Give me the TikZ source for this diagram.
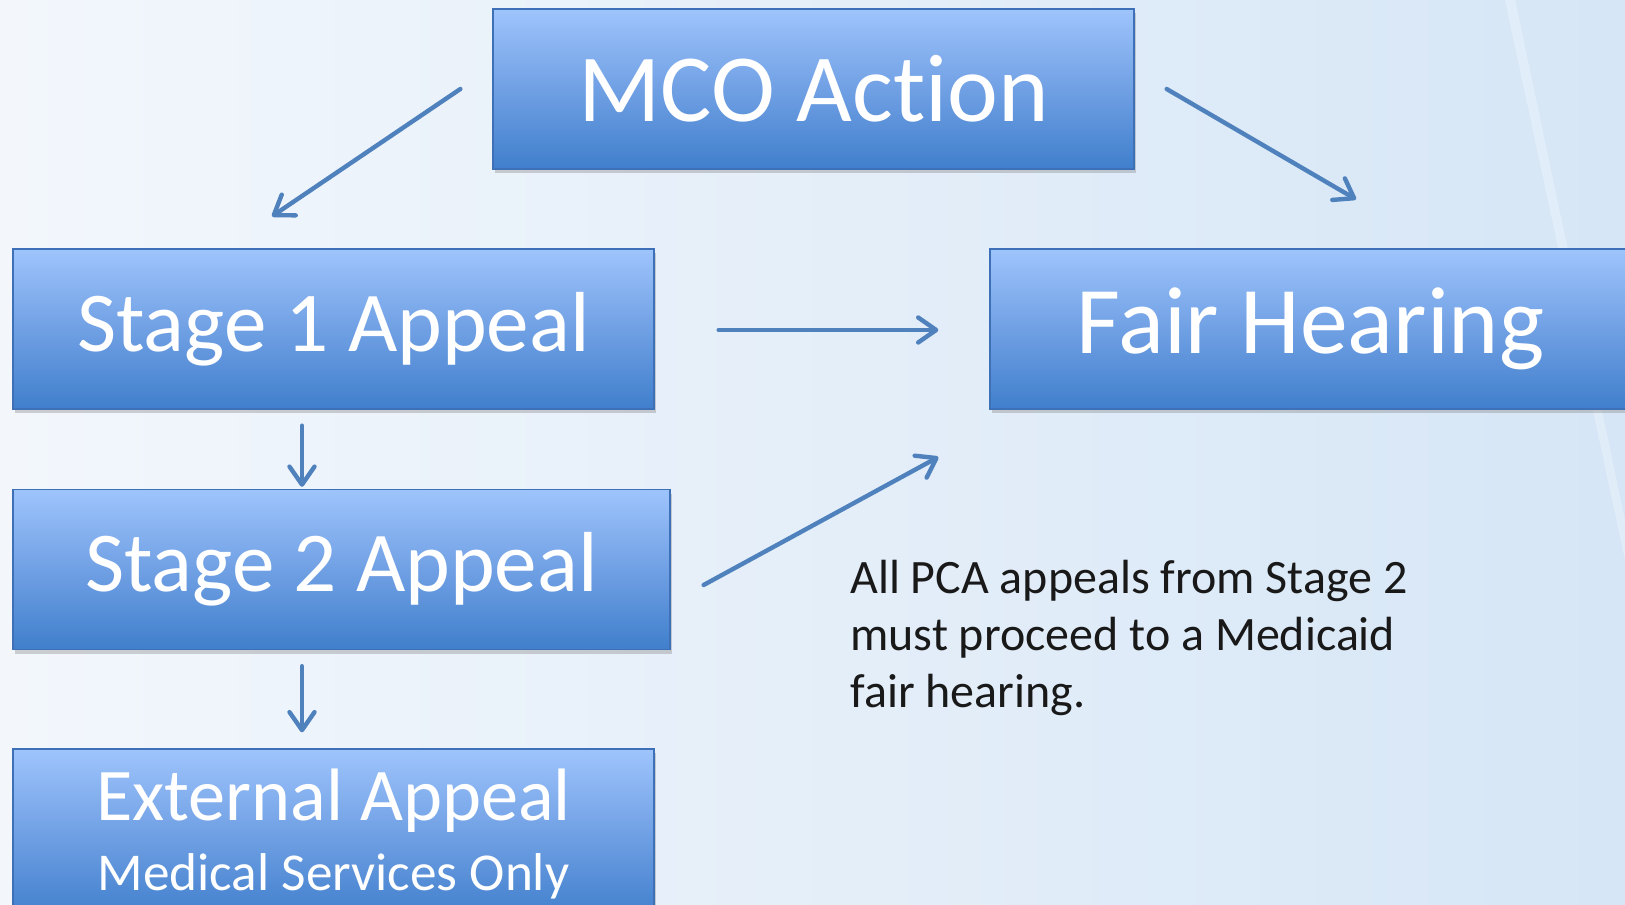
\documentclass[tikz,border=0pt]{standalone}
\usepackage{fontspec}
\setmainfont{Carlito}[Ligatures=NoCommon]
\usetikzlibrary{arrows.meta,calc,shadows}

\definecolor{boxtop}{RGB}{158,196,252}
\definecolor{boxmid}{RGB}{112,160,228}
\definecolor{boxbot}{RGB}{64,127,204}
\definecolor{boxedge}{RGB}{62,112,184}
\definecolor{linkblue}{RGB}{79,129,189}
\definecolor{bgleft}{RGB}{243,247,252}
\definecolor{bgright}{RGB}{214,230,246}

\begin{document}
\begin{tikzpicture}[
    x=0.02cm, y=-0.02cm,
    stagebox/.style={
        draw=boxedge, line width=0.8pt,
        top color=boxtop, bottom color=boxbot, middle color=boxmid,
        text=white, inner sep=0pt,
        minimum width=12.82cm, minimum height=3.2cm,
        drop shadow={shadow xshift=1pt, shadow yshift=-2.5pt, opacity=0.35}
    },
    link/.style={
        linkblue, line width=2.5pt, line cap=round,
        -{Straight Barb[length=3.6mm, width=5mm, round]}
    }
]
    \useasboundingbox (0,0) rectangle (1625,905);
    \shade[left color=bgleft, right color=bgright] (0,0) rectangle (1625,905);
    \fill[white, opacity=0.25] (1505,0) -- (1515,0) -- (1625,520) -- (1625,560) -- cycle;

    \node[stagebox, font=\fontsize{54.8}{60}\selectfont] (mco) at (813.5,89) {MCO Action};
    \node[stagebox, font=\fontsize{48.5}{54}\selectfont] (stage1) at (333.5,329) {Stage 1 Appeal};
    \node[stagebox, font=\fontsize{54.4}{60}\selectfont] (fair) at (1310.5,329) {Fair Hearing};
    \node[stagebox, minimum width=13.14cm, font=\fontsize{48.5}{54}\selectfont] (stage2) at (341.5,569.5)
        {Stage 2 Appeal};
    \node[stagebox, minimum height=3.4cm, align=center, font=\fontsize{42.3}{40.2}\selectfont] (ext) at (333.5,834)
        {External Appeal\\ \fontsize{30.3}{40.2}\selectfont Medical Services Only};

    \node[anchor=base west, align=left, inner sep=0pt, text=black!90,
        font=\fontsize{27.3}{32.4}\selectfont] (note) at (850,707)
        {All PCA appeals from Stage 2\\
         must proceed to a Medicaid\\
         fair hearing.};

    \draw[link] ($(mco.west)+(-32,0)$) -- ($(stage1.north)+(-61.5,-32)$);
    \draw[link] ($(mco.east)+(32,0)$) -- ($(fair.north)+(45.5,-49)$);
    \draw[link] ($(stage1.east)+(64,1)$) -- ($(fair.west)+(-51,1)$);
    \draw[link] ($(stage1.south)+(-31.5,16)$) -- ($(stage2.north)+(-39.5,-2)$);
    \draw[link] ($(stage2.east)+(33,15.5)$) -- ($(fair.west)+(-51,128)$);
    \draw[link] ($(stage2.south)+(-39.5,16)$) -- ($(ext.north)+(-31.5,-16)$);
\end{tikzpicture}
\end{document}
